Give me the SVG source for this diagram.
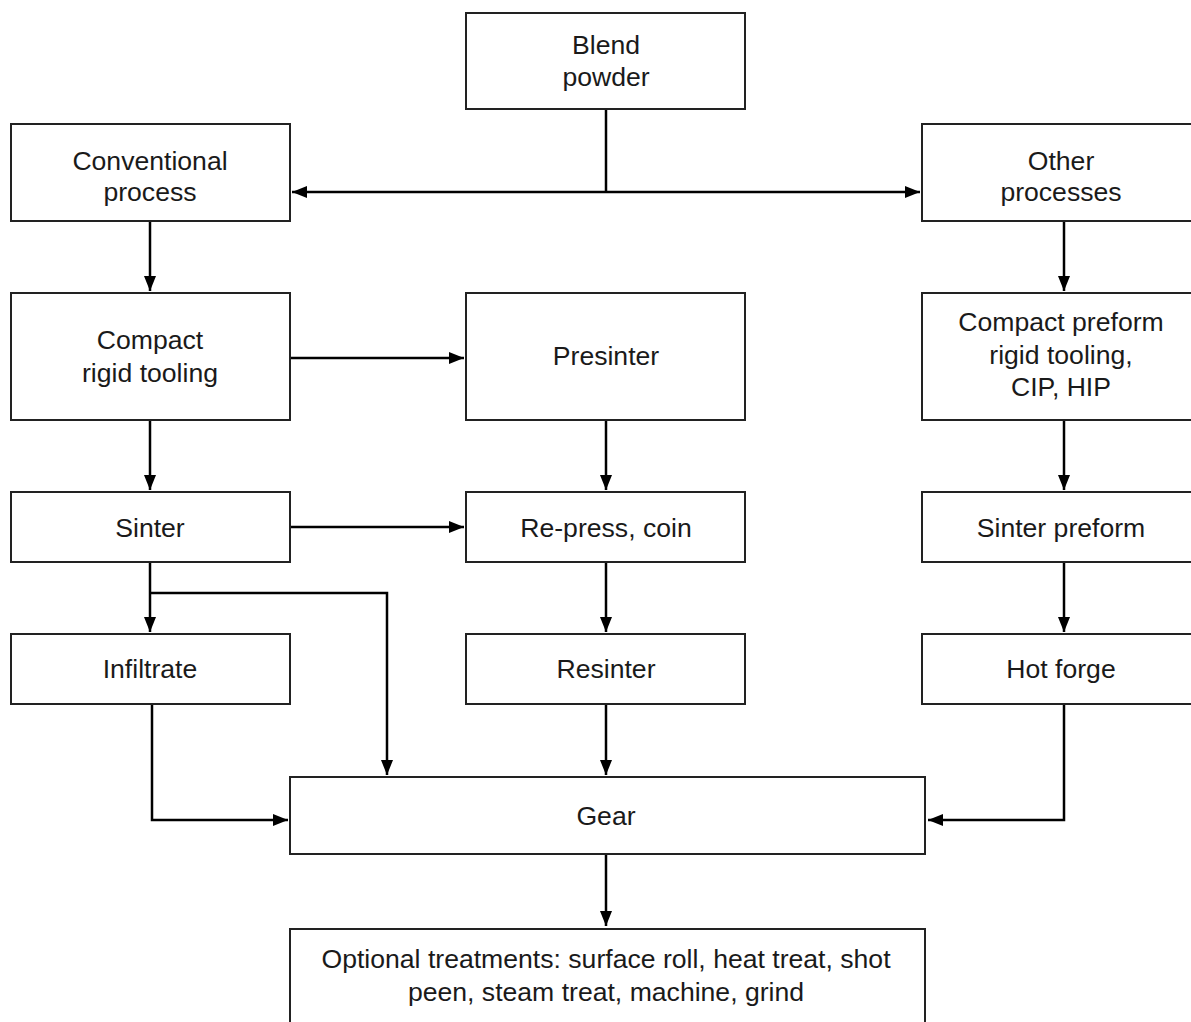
<svg xmlns="http://www.w3.org/2000/svg" width="1191" height="1022" viewBox="0 0 1191 1022">
<style>
  .box { fill: #ffffff; stroke: #222222; stroke-width: 2; }
  .lbl { font-family: "Liberation Sans", Arial, sans-serif; font-size: 26.6px; fill: #1a1a1a; text-anchor: middle; }
  .con { fill: none; stroke: #000000; stroke-width: 2.5; }
</style>
<defs>
  <marker id="arr" markerUnits="userSpaceOnUse" markerWidth="16" markerHeight="13" refX="15" refY="6" orient="auto">
    <path d="M0,0 L15,6 L0,12 z" fill="#000000"/>
  </marker>
</defs>
<rect x="0" y="0" width="1191" height="1022" fill="#ffffff"/>

<g id="connectors">
  <path class="con" d="M606,109 V192"/>
  <path class="con" d="M606,192 H292" marker-end="url(#arr)"/>
  <path class="con" d="M606,192 H920" marker-end="url(#arr)"/>
  <path class="con" d="M150,221 V291" marker-end="url(#arr)"/>
  <path class="con" d="M1064,221 V291" marker-end="url(#arr)"/>
  <path class="con" d="M290,358 H464" marker-end="url(#arr)"/>
  <path class="con" d="M150,420 V490" marker-end="url(#arr)"/>
  <path class="con" d="M606,420 V490" marker-end="url(#arr)"/>
  <path class="con" d="M1064,420 V490" marker-end="url(#arr)"/>
  <path class="con" d="M290,527 H464" marker-end="url(#arr)"/>
  <path class="con" d="M150,562 V632" marker-end="url(#arr)"/>
  <path class="con" d="M150,593 H387 V775" marker-end="url(#arr)"/>
  <path class="con" d="M606,562 V632" marker-end="url(#arr)"/>
  <path class="con" d="M1064,562 V632" marker-end="url(#arr)"/>
  <path class="con" d="M152,704 V820 H288" marker-end="url(#arr)"/>
  <path class="con" d="M606,704 V775" marker-end="url(#arr)"/>
  <path class="con" d="M1064,704 V820 H928" marker-end="url(#arr)"/>
  <path class="con" d="M606,854 V926" marker-end="url(#arr)"/>
</g>

<g id="blend">
  <rect class="box" x="466" y="13" width="279" height="96"/>
  <text class="lbl" x="606" y="54">Blend</text>
  <text class="lbl" x="606" y="86">powder</text>
</g>
<g id="conventional">
  <rect class="box" x="11" y="124" width="279" height="97"/>
  <text class="lbl" x="150" y="170">Conventional</text>
  <text class="lbl" x="150" y="201">process</text>
</g>
<g id="other">
  <rect class="box" x="922" y="124" width="279" height="97"/>
  <text class="lbl" x="1061" y="170">Other</text>
  <text class="lbl" x="1061" y="201">processes</text>
</g>
<g id="compact">
  <rect class="box" x="11" y="293" width="279" height="127"/>
  <text class="lbl" x="150" y="349">Compact</text>
  <text class="lbl" x="150" y="382">rigid tooling</text>
</g>
<g id="presinter">
  <rect class="box" x="466" y="293" width="279" height="127"/>
  <text class="lbl" x="606" y="365">Presinter</text>
</g>
<g id="compact-preform">
  <rect class="box" x="922" y="293" width="279" height="127"/>
  <text class="lbl" x="1061" y="331">Compact preform</text>
  <text class="lbl" x="1061" y="364">rigid tooling,</text>
  <text class="lbl" x="1061" y="396">CIP, HIP</text>
</g>
<g id="sinter">
  <rect class="box" x="11" y="492" width="279" height="70"/>
  <text class="lbl" x="150" y="537">Sinter</text>
</g>
<g id="repress">
  <rect class="box" x="466" y="492" width="279" height="70"/>
  <text class="lbl" x="606" y="537">Re-press, coin</text>
</g>
<g id="sinter-preform">
  <rect class="box" x="922" y="492" width="279" height="70"/>
  <text class="lbl" x="1061" y="537">Sinter preform</text>
</g>
<g id="infiltrate">
  <rect class="box" x="11" y="634" width="279" height="70"/>
  <text class="lbl" x="150" y="678">Infiltrate</text>
</g>
<g id="resinter">
  <rect class="box" x="466" y="634" width="279" height="70"/>
  <text class="lbl" x="606" y="678">Resinter</text>
</g>
<g id="hot-forge">
  <rect class="box" x="922" y="634" width="279" height="70"/>
  <text class="lbl" x="1061" y="678">Hot forge</text>
</g>
<g id="gear">
  <rect class="box" x="290" y="777" width="635" height="77"/>
  <text class="lbl" x="606" y="825">Gear</text>
</g>
<g id="optional">
  <rect class="box" x="290" y="929" width="635" height="110"/>
  <text class="lbl" x="606" y="968">Optional treatments: surface roll, heat treat, shot</text>
  <text class="lbl" x="606" y="1001">peen, steam treat, machine, grind</text>
</g>
</svg>
